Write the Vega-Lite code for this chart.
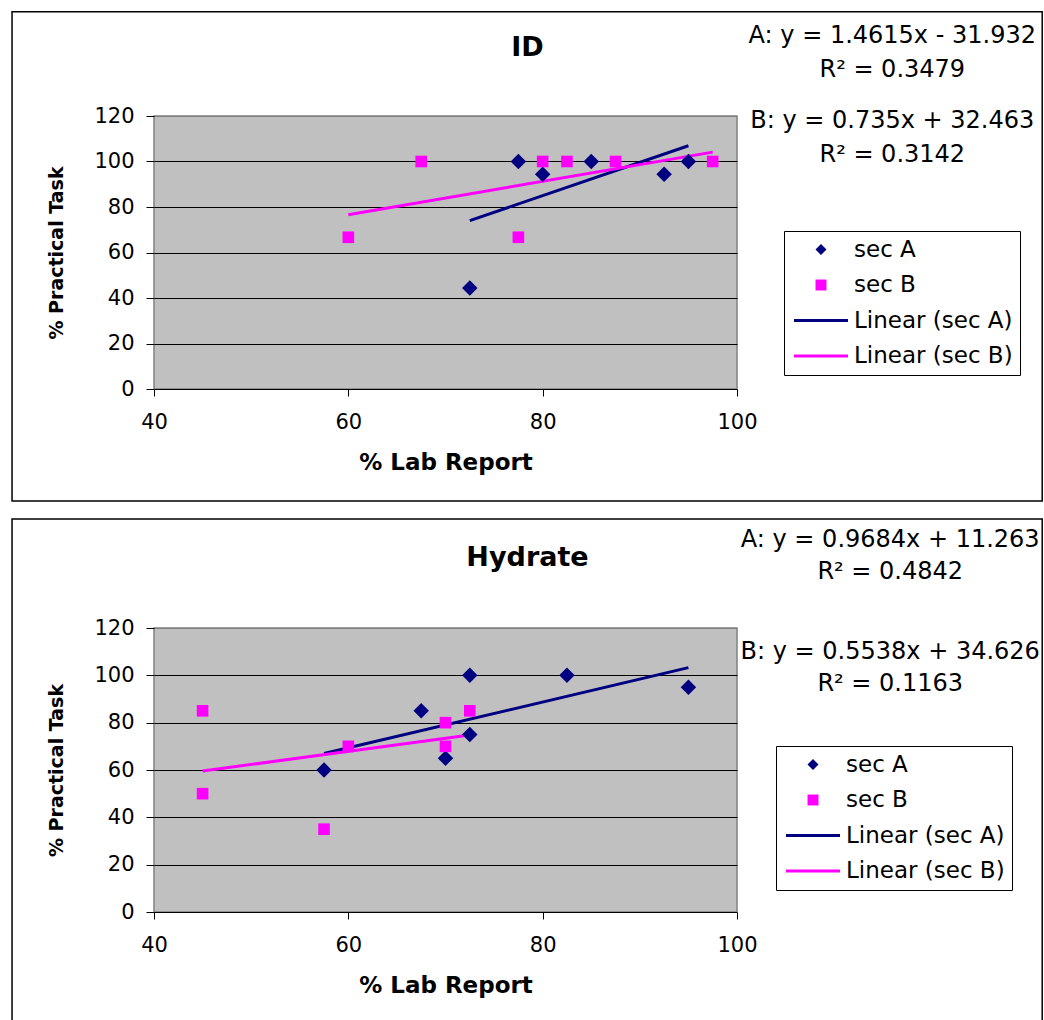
{
  "$schema": "https://vega.github.io/schema/vega-lite/v6.json",
  "padding": {"left": 10, "top": 10, "right": 0, "bottom": 0},
  "background": "white",
  "datasets": {
    "id_pts": [
      {"lab": 72.5, "practical": 44.4, "series": "sec A"},
      {"lab": 77.5, "practical": 100, "series": "sec A"},
      {"lab": 80, "practical": 94.4, "series": "sec A"},
      {"lab": 85, "practical": 100, "series": "sec A"},
      {"lab": 92.5, "practical": 94.4, "series": "sec A"},
      {"lab": 95, "practical": 100, "series": "sec A"},
      {"lab": 60, "practical": 66.7, "series": "sec B"},
      {"lab": 67.5, "practical": 100, "series": "sec B"},
      {"lab": 77.5, "practical": 66.7, "series": "sec B"},
      {"lab": 80, "practical": 100, "series": "sec B"},
      {"lab": 82.5, "practical": 100, "series": "sec B"},
      {"lab": 87.5, "practical": 100, "series": "sec B"},
      {"lab": 97.5, "practical": 100, "series": "sec B"}
    ],
    "id_fit": [
      {"lab": 72.5, "practical": 74.03, "series": "Linear (sec A)"},
      {"lab": 95, "practical": 106.91, "series": "Linear (sec A)"},
      {"lab": 60, "practical": 76.56, "series": "Linear (sec B)"},
      {"lab": 97.5, "practical": 104.13, "series": "Linear (sec B)"}
    ],
    "hy_pts": [
      {"lab": 57.5, "practical": 60, "series": "sec A"},
      {"lab": 67.5, "practical": 85, "series": "sec A"},
      {"lab": 70, "practical": 65, "series": "sec A"},
      {"lab": 72.5, "practical": 75, "series": "sec A"},
      {"lab": 72.5, "practical": 100, "series": "sec A"},
      {"lab": 82.5, "practical": 100, "series": "sec A"},
      {"lab": 95, "practical": 95, "series": "sec A"},
      {"lab": 45, "practical": 85, "series": "sec B"},
      {"lab": 45, "practical": 50, "series": "sec B"},
      {"lab": 57.5, "practical": 35, "series": "sec B"},
      {"lab": 60, "practical": 70, "series": "sec B"},
      {"lab": 70, "practical": 80, "series": "sec B"},
      {"lab": 70, "practical": 70, "series": "sec B"},
      {"lab": 72.5, "practical": 85, "series": "sec B"}
    ],
    "hy_fit": [
      {"lab": 57.5, "practical": 66.95, "series": "Linear (sec A)"},
      {"lab": 95, "practical": 103.26, "series": "Linear (sec A)"},
      {"lab": 45, "practical": 59.55, "series": "Linear (sec B)"},
      {"lab": 72.5, "practical": 74.78, "series": "Linear (sec B)"}
    ]
  },
  "vconcat": [
    {
      "width": 583,
      "height": 273,
      "title": {"text": "ID", "dx": 82, "offset": -50.5},
      "layer": [
        {
          "data": {"name": "id_fit"},
          "mark": {"type": "line", "strokeWidth": 3},
          "encoding": {
            "x": {"field": "lab", "type": "quantitative", "title": "% Lab Report", "scale": {"domain": [40, 100], "nice": false, "zero": false}, "axis": {"values": [40, 60, 80, 100]}},
            "y": {"field": "practical", "type": "quantitative", "title": "% Practical Task", "scale": {"domain": [0, 120], "nice": false}, "axis": {"values": [0, 20, 40, 60, 80, 100, 120]}},
            "stroke": {"field": "series", "type": "nominal", "scale": {"domain": ["Linear (sec A)", "Linear (sec B)"], "range": ["#000080", "#FF00FF"]}, "legend": null}
          }
        },
        {
          "data": {"name": "id_pts"},
          "mark": {"type": "point", "filled": true, "opacity": 1},
          "encoding": {
            "x": {"field": "lab", "type": "quantitative"},
            "y": {"field": "practical", "type": "quantitative"},
            "size": {"field": "series", "type": "nominal", "scale": {"domain": ["sec A", "sec B"], "range": [240, 135]}, "legend": null},
            "color": {"field": "series", "type": "nominal", "title": null, "scale": {"domain": ["sec A", "sec B", "Linear (sec A)", "Linear (sec B)"], "range": ["#000080", "#FF00FF", "#000080", "#FF00FF"]}, "legend": {"legendX": 630, "legendY": 115}},
            "shape": {"field": "series", "type": "nominal", "title": null, "scale": {"domain": ["sec A", "sec B", "Linear (sec A)", "Linear (sec B)"], "range": ["diamond", "square", "M-4.93,-0.26H4.93V0.26H-4.93Z", "M-4.93,-0.26H4.93V0.26H-4.93Z"]}, "legend": {"legendX": 630, "legendY": 115}}
          }
        },
        {
          "data": {"values": [{"frame": "ID"}]},
          "mark": {"type": "rect", "fillOpacity": 0, "stroke": "black", "strokeWidth": 1.5},
          "encoding": {
            "x": {"datum": 25.39},
            "x2": {"datum": 131.41},
            "y": {"datum": 165.82},
            "y2": {"datum": -49.23}
          }
        },
        {
          "data": {"values": [{"lines": ["A: y = 1.4615x - 31.932", "R² = 0.3479"]}]},
          "mark": {"type": "text", "align": "center", "baseline": "top", "fontSize": 24, "lineHeight": 34.5, "color": "black"},
          "encoding": {
            "x": {"datum": 115.98},
            "y": {"datum": 160.6},
            "text": {"field": "lines", "type": "nominal"}
          }
        },
        {
          "data": {"values": [{"lines": ["B: y = 0.735x + 32.463", "R² = 0.3142"]}]},
          "mark": {"type": "text", "align": "center", "baseline": "top", "fontSize": 24, "lineHeight": 34.5, "color": "black"},
          "encoding": {
            "x": {"datum": 115.98},
            "y": {"datum": 123.2},
            "text": {"field": "lines", "type": "nominal"}
          }
        }
      ]
    },
    {
      "width": 583,
      "height": 284,
      "title": {"text": "Hydrate", "dx": 82, "offset": -53.5},
      "layer": [
        {
          "data": {"name": "hy_fit"},
          "mark": {"type": "line", "strokeWidth": 3},
          "encoding": {
            "x": {"field": "lab", "type": "quantitative", "title": "% Lab Report", "scale": {"domain": [40, 100], "nice": false, "zero": false}, "axis": {"values": [40, 60, 80, 100]}},
            "y": {"field": "practical", "type": "quantitative", "title": "% Practical Task", "scale": {"domain": [0, 120], "nice": false}, "axis": {"values": [0, 20, 40, 60, 80, 100, 120]}},
            "stroke": {"field": "series", "type": "nominal", "scale": {"domain": ["Linear (sec A)", "Linear (sec B)"], "range": ["#000080", "#FF00FF"]}, "legend": null}
          }
        },
        {
          "data": {"name": "hy_pts"},
          "mark": {"type": "point", "filled": true, "opacity": 1},
          "encoding": {
            "x": {"field": "lab", "type": "quantitative"},
            "y": {"field": "practical", "type": "quantitative"},
            "size": {"field": "series", "type": "nominal", "scale": {"domain": ["sec A", "sec B"], "range": [240, 135]}, "legend": null},
            "color": {"field": "series", "type": "nominal", "title": null, "scale": {"domain": ["sec A", "sec B", "Linear (sec A)", "Linear (sec B)"], "range": ["#000080", "#FF00FF", "#000080", "#FF00FF"]}, "legend": {"legendX": 622, "legendY": 118}},
            "shape": {"field": "series", "type": "nominal", "title": null, "scale": {"domain": ["sec A", "sec B", "Linear (sec A)", "Linear (sec B)"], "range": ["diamond", "square", "M-4.93,-0.26H4.93V0.26H-4.93Z", "M-4.93,-0.26H4.93V0.26H-4.93Z"]}, "legend": {"legendX": 622, "legendY": 118}}
          }
        },
        {
          "data": {"values": [{"frame": "Hydrate"}]},
          "mark": {"type": "rect", "fillOpacity": 0, "stroke": "black", "strokeWidth": 1.5},
          "encoding": {
            "x": {"datum": 25.39},
            "x2": {"datum": 131.41},
            "y": {"datum": 166.06},
            "y2": {"datum": -50.3}
          }
        },
        {
          "data": {"values": [{"lines": ["A: y = 0.9684x + 11.263", "R² = 0.4842"]}]},
          "mark": {"type": "text", "align": "center", "baseline": "top", "fontSize": 24, "lineHeight": 32, "color": "black"},
          "encoding": {
            "x": {"datum": 115.77},
            "y": {"datum": 162.4},
            "text": {"field": "lines", "type": "nominal"}
          }
        },
        {
          "data": {"values": [{"lines": ["B: y = 0.5538x + 34.626", "R² = 0.1163"]}]},
          "mark": {"type": "text", "align": "center", "baseline": "top", "fontSize": 24, "lineHeight": 32, "color": "black"},
          "encoding": {
            "x": {"datum": 115.77},
            "y": {"datum": 115.05},
            "text": {"field": "lines", "type": "nominal"}
          }
        }
      ]
    }
  ],
  "spacing": 239,
  "bounds": "flush",
  "resolve": {
    "scale": {"color": "independent", "shape": "independent", "stroke": "independent", "size": "independent"},
    "legend": {"color": "independent", "shape": "independent"}
  },
  "config": {
    "font": "DejaVu Sans",
    "view": {"fill": "#C0C0C0", "stroke": "#808080", "strokeWidth": 1.5},
    "axis": {
      "labelFont": "DejaVu Sans", "labelFontSize": 21, "labelColor": "black",
      "titleFont": "DejaVu Sans", "titleFontSize": 23, "titleFontWeight": "bold", "titleColor": "black",
      "tickColor": "black", "tickWidth": 1, "domain": false, "grid": false,
      "labelFlush": false, "labelOverlap": false
    },
    "axisX": {"tickSize": 7, "labelPadding": 15, "titlePadding": 19},
    "axisY": {
      "tickSize": 8, "labelPadding": 12, "titlePadding": 27, "titleFontSize": 19,
      "grid": true, "gridWidth": 1,
      "gridColor": {"condition": {"test": "datum.value >= 120", "value": "#808080"}, "value": "black"}
    },
    "title": {"font": "DejaVu Sans", "fontSize": 27, "fontWeight": "bold", "color": "black", "anchor": "middle", "baseline": "bottom"},
    "legend": {
      "orient": "none", "strokeColor": "black", "fillColor": "white", "padding": 7,
      "labelFont": "DejaVu Sans", "labelFontSize": 23, "labelColor": "black",
      "symbolSize": 120, "symbolStrokeWidth": 0, "symbolOffset": 18.5, "labelOffset": 21.5,
      "rowPadding": 11.5, "symbolOpacity": 1
    }
  }
}
